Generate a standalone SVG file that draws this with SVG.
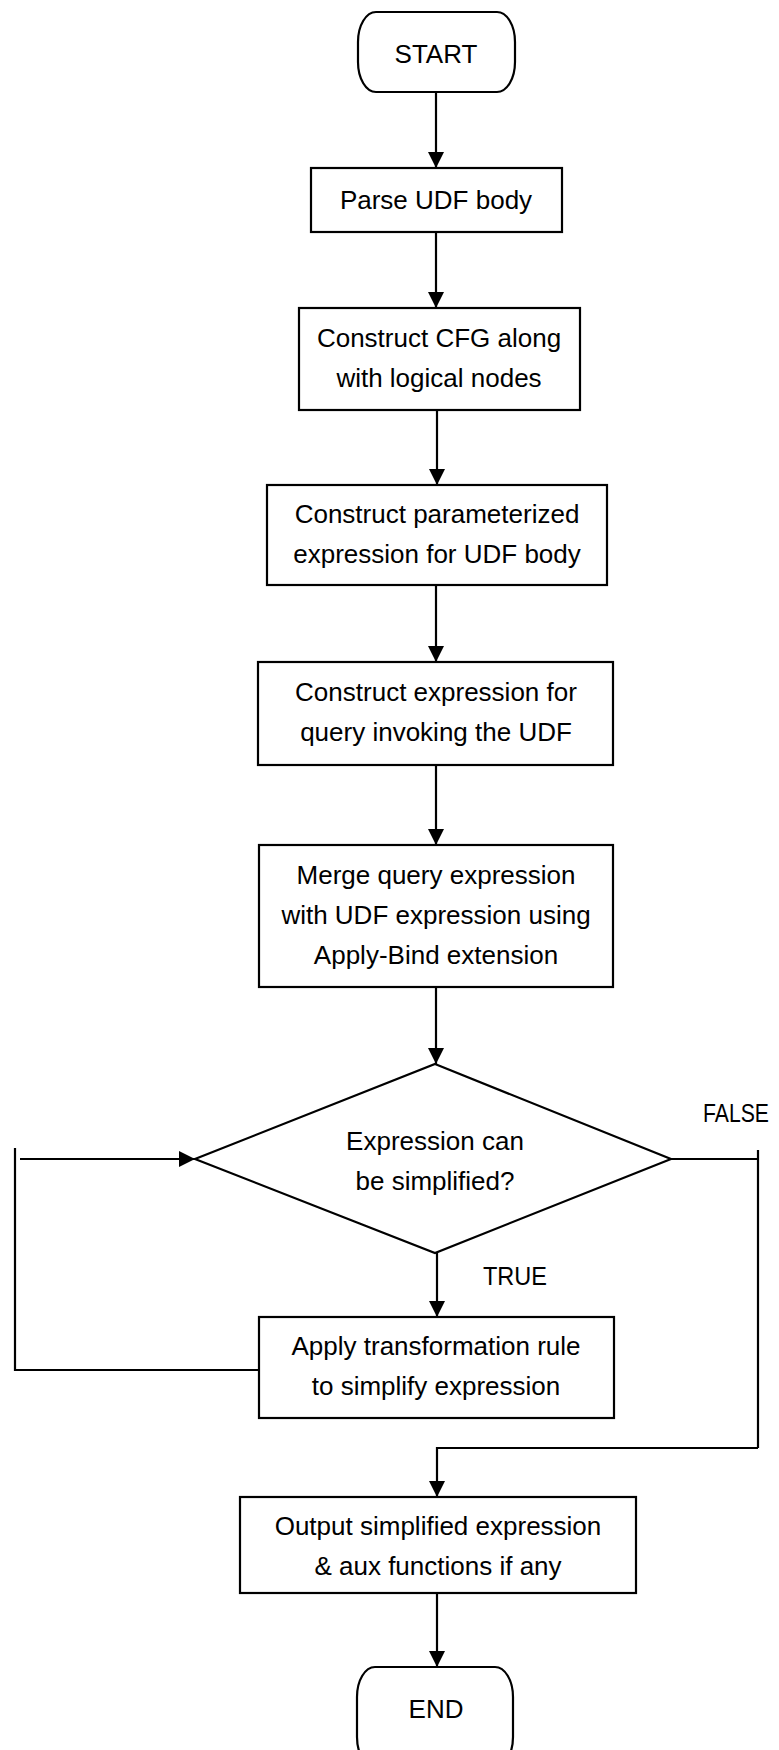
<svg xmlns="http://www.w3.org/2000/svg" width="779" height="1750" viewBox="0 0 779 1750">
<defs>
<marker id="arr" viewBox="0 0 10 10" refX="10" refY="5" markerWidth="16" markerHeight="16" markerUnits="userSpaceOnUse" orient="auto">
<path d="M0,0 L10,5 L0,10 Z" fill="#000"/>
</marker>
</defs>
<style>
.box{fill:#fff;stroke:#000;stroke-width:2.2}
.ln{fill:none;stroke:#000;stroke-width:2.2}
.t{font-family:"Liberation Sans",Arial,sans-serif;font-size:26px;fill:#000;text-anchor:middle}
.lbl{font-family:"Liberation Sans",Arial,sans-serif;font-size:25px;fill:#000}
</style>
<rect width="779" height="1750" fill="#fff"/>
<g id="connectors">
<line class="ln" x1="436" y1="92" x2="436" y2="168" marker-end="url(#arr)"/>
<line class="ln" x1="436" y1="232" x2="436" y2="308" marker-end="url(#arr)"/>
<line class="ln" x1="437" y1="410" x2="437" y2="485" marker-end="url(#arr)"/>
<line class="ln" x1="436" y1="585" x2="436" y2="662" marker-end="url(#arr)"/>
<line class="ln" x1="436" y1="765" x2="436" y2="845" marker-end="url(#arr)"/>
<line class="ln" x1="436" y1="987" x2="436" y2="1064" marker-end="url(#arr)"/>
<line class="ln" x1="437" y1="1238" x2="437" y2="1317" marker-end="url(#arr)"/>
<polyline class="ln" points="15,1148 15,1370 259,1370"/>
<line class="ln" x1="20" y1="1159" x2="195" y2="1159" marker-end="url(#arr)"/>
<polyline class="ln" points="671,1159 758,1159"/>
<line class="ln" x1="758" y1="1150" x2="758" y2="1448"/>
<polyline class="ln" points="758,1448 437,1448 437,1497" marker-end="url(#arr)"/>
<line class="ln" x1="437" y1="1593" x2="437" y2="1667" marker-end="url(#arr)"/>
<text class="lbl" x="703" y="1122" textLength="66" lengthAdjust="spacingAndGlyphs">FALSE</text>
<text class="lbl" x="483" y="1285" textLength="64" lengthAdjust="spacingAndGlyphs">TRUE</text>
</g>
<g id="start">
<rect class="box" x="358" y="12" width="157" height="80" rx="18" ry="30"/>
<text class="t" x="436" y="63">START</text>
</g>
<g id="parse">
<rect class="box" x="311" y="168" width="251" height="64"/>
<text class="t" x="436" y="209">Parse UDF body</text>
</g>
<g id="cfg">
<rect class="box" x="299" y="308" width="281" height="102"/>
<text class="t" x="439" y="347">Construct CFG along</text>
<text class="t" x="439" y="387">with logical nodes</text>
</g>
<g id="param">
<rect class="box" x="267" y="485" width="340" height="100"/>
<text class="t" x="437" y="523">Construct parameterized</text>
<text class="t" x="437" y="563">expression for UDF body</text>
</g>
<g id="query">
<rect class="box" x="258" y="662" width="355" height="103"/>
<text class="t" x="436" y="701">Construct expression for</text>
<text class="t" x="436" y="741">query invoking the UDF</text>
</g>
<g id="merge">
<rect class="box" x="259" y="845" width="354" height="142"/>
<text class="t" x="436" y="884">Merge query expression</text>
<text class="t" x="436" y="924">with UDF expression using</text>
<text class="t" x="436" y="964">Apply-Bind extension</text>
</g>
<g id="decision">
<polygon class="box" points="435,1064 671,1159 435,1253 195,1159"/>
<text class="t" x="435" y="1150">Expression can</text>
<text class="t" x="435" y="1190">be simplified?</text>
</g>
<g id="apply">
<rect class="box" x="259" y="1317" width="355" height="101"/>
<text class="t" x="436" y="1355">Apply transformation rule</text>
<text class="t" x="436" y="1395">to simplify expression</text>
</g>
<g id="output">
<rect class="box" x="240" y="1497" width="396" height="96"/>
<text class="t" x="438" y="1535">Output simplified expression</text>
<text class="t" x="438" y="1575">&amp; aux functions if any</text>
</g>
<g id="end">
<rect class="box" x="357" y="1667" width="156" height="100" rx="18" ry="30"/>
<text class="t" x="436" y="1718">END</text>
</g>
</svg>
